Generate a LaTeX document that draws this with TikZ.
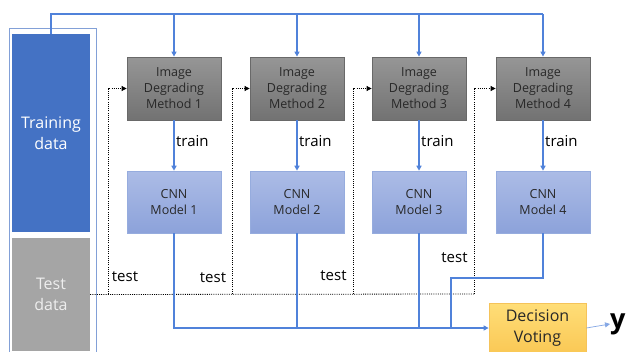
\documentclass[tikz,border=0pt]{standalone}
\usepackage{fontspec}
\setmainfont{Open Sans}
\usetikzlibrary{arrows.meta}
\definecolor{blueline}{RGB}{80,130,218}
\definecolor{framecol}{RGB}{130,160,215}
\definecolor{trainfill}{RGB}{68,114,196}
\definecolor{testfill}{RGB}{165,165,165}
\definecolor{txt}{RGB}{40,40,40}
\tikzset{
  databox/.style={draw=none, text=white, align=center, inner sep=0pt},
  methodbox/.style={draw={rgb,255:red,105;green,105;blue,105}, line width=0.8pt,
    top color={rgb,255:red,150;green,150;blue,150}, bottom color={rgb,255:red,114;green,114;blue,114},
    minimum width=94pt, minimum height=63pt, text=txt, align=center, inner sep=0pt,
    font=\fontsize{12.5}{16}\selectfont},
  cnnbox/.style={draw={rgb,255:red,150;green,172;blue,222}, line width=0.6pt,
    top color={rgb,255:red,172;green,188;blue,230}, bottom color={rgb,255:red,140;green,162;blue,218},
    minimum width=94pt, minimum height=62pt, text=txt, align=center, inner sep=0pt,
    font=\fontsize{12.5}{16}\selectfont},
  votebox/.style={draw={rgb,255:red,245;green,195;blue,90}, line width=0.8pt,
    top color={rgb,255:red,255;green,222;blue,120}, bottom color={rgb,255:red,250;green,200;blue,85},
    minimum width=97pt, minimum height=50pt, text=txt, align=center, inner sep=0pt,
    font=\fontsize{16}{21.5}\selectfont},
  bline/.style={draw=blueline, line width=1.3pt},
  barrow/.style={bline, -{Triangle[length=5pt,width=5pt]}},
  testline/.style={draw=black, line width=0.8pt, dash pattern=on 1pt off 1.2pt},
  testarrow/.style={testline, -{Triangle[length=5pt,width=5pt]}},
  lab/.style={text=black, inner sep=0pt, font=\fontsize{15}{17}\selectfont},
}
\begin{document}
\begin{tikzpicture}[x=1pt,y=-1pt]
\useasboundingbox (0,0) rectangle (626,351);
\clip (0,0) rectangle (626,351);
\fill[white] (0,0) rectangle (626,351);
% outer frame
\draw[framecol, line width=0.9pt] (9,28) rectangle (96,370);
% data boxes
\node[databox, fill=trainfill, minimum width=78pt, minimum height=198pt,
      font=\fontsize{16}{21.5}\selectfont] (tr) at (51,133) {Training\\data};
\node[databox, fill=testfill, minimum width=78pt, minimum height=113pt,
      text={rgb,255:red,238;green,238;blue,238},
      font=\fontsize{16}{21.5}\selectfont] (te) at (51,294.5) {Test\\data};
% method boxes
\node[methodbox] (m1) at (174,88.5) {Image\\Degrading\\Method 1};
\node[methodbox] (m2) at (297,88.5) {Image\\Degrading\\Method 2};
\node[methodbox] (m3) at (419,88.5) {Image\\Degrading\\Method 3};
\node[methodbox] (m4) at (543,88.5) {Image\\Degrading\\Method 4};
% cnn boxes
\node[cnnbox] (c1) at (174,202) {CNN\\Model 1};
\node[cnnbox] (c2) at (297,202) {CNN\\Model 2};
\node[cnnbox] (c3) at (419,202) {CNN\\Model 3};
\node[cnnbox] (c4) at (543,202) {CNN\\Model 4};
% decision voting
\node[votebox] (dv) at (537.5,328) {Decision\\Voting};
\node[anchor=west, inner sep=0pt, font=\fontsize{27}{27}\selectfont\bfseries] (y) at (610,324) {y};
% top distribution line
\coordinate (top) at (51,14);
\draw[bline] (tr.north) -- (top) -- (m4.north |- top);
\draw[barrow] (m1.north |- top) -- (m1.north);
\draw[barrow] (m2.north |- top) -- (m2.north);
\draw[barrow] (m3.north |- top) -- (m3.north);
\draw[barrow] (m4.north |- top) -- (m4.north);
% train arrows
\draw[barrow] (m1.south) -- (c1.north);
\draw[barrow] (m2.south) -- (c2.north);
\draw[barrow] (m3.south) -- (c3.north);
\draw[barrow] (m4.south) -- (c4.north);
\node[lab, anchor=west] (tl1) at (176,141) {train};
\node[lab, anchor=west] (tl2) at (299,141) {train};
\node[lab, anchor=west] (tl3) at (421,141) {train};
\node[lab, anchor=west] (tl4) at (545,141) {train};
% test lines
\coordinate (d1) at (108,294);
\coordinate (d2) at (232,294);
\coordinate (d3) at (353,294);
\coordinate (d4) at (474,294);
\draw[testline] (te.east) -- (d4);
\draw[testarrow] (d1) |- (m1.west);
\draw[testarrow] (d2) |- (m2.west);
\draw[testarrow] (d3) |- (m3.west);
\draw[testarrow] (d4) |- (m4.west);
\node[lab] (s1) at (125,277) {test};
\node[lab] (s2) at (213,278) {test};
\node[lab] (s3) at (333.5,276) {test};
\node[lab] (s4) at (454.5,258) {test};
% outputs to decision voting
\coordinate (k4) at (451,278);
\draw[barrow] (c1.south) |- (dv.west);
\draw[bline] (c2.south) -- (c2.south |- dv.west);
\draw[bline] (c3.south) -- (c3.south |- dv.west);
\draw[bline] (c4.south) |- (k4) -- (k4 |- dv.west);
\draw[draw=blueline!70, line width=0.7pt, -{Triangle[length=5pt,width=5pt]}] (dv.east) -- (y.west);
\end{tikzpicture}
\end{document}
